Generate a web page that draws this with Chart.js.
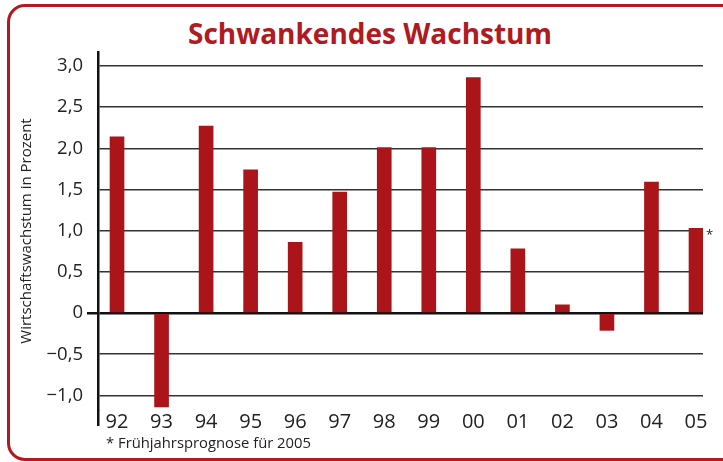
<!DOCTYPE html>
<html lang="de">
<head>
  <meta charset="UTF-8" />
  <title>Schwankendes Wachstum</title>
  <script src="https://cdn.jsdelivr.net/npm/chart.js"></script>
  <style>
    body {
      margin: 0;
      width: 723px;
      height: 462px;
      overflow: hidden;
      background: #fff;
      font-family: "Open Sans", sans-serif;
      position: relative;
    }
    #rahmen {
      position: absolute;
      left: 7px;
      top: 4px;
      width: 740px;
      height: 451px;
      border: 3px solid #B01A20;
      border-radius: 18px;
    }
    #titel {
      position: absolute;
      left: 0;
      top: 16px;
      width: 740px;
      text-align: center;
      font-weight: bold;
      font-size: 28px;
      line-height: 34px;
      color: #B01A20;
    }
    #fussnote {
      position: absolute;
      left: 106px;
      top: 434px;
      font-size: 14.8px;
      line-height: 17px;
      color: #222;
    }
    #wachstumChart {
      position: absolute;
      left: 0;
      top: 0;
    }
  </style>
</head>
<body>

  <div id="rahmen"></div>
  <div id="titel">Schwankendes Wachstum</div>
  <canvas id="wachstumChart" width="723" height="462"></canvas>
  <div id="fussnote">* Frühjahrsprognose für 2005</div>

  <script>
    // Daten
    const jahre = ["92", "93", "94", "95", "96", "97", "98", "99", "00", "01", "02", "03", "04", "05"];
    const wachstum = [2.14, -1.14, 2.27, 1.74, 0.86, 1.47, 2.01, 2.01, 2.86, 0.78, 0.10, -0.21, 1.59, 1.03];
    const yTicks = [-1.0, -0.5, 0, 0.5, 1.0, 1.5, 2.0, 2.5, 3.0];

    const rot = "#AB1419";
    const xMin = -0.427;

    function formatProzent(v) {
      if (v === 0) return "0";
      return (v < 0 ? "\u2212" : "") + Math.abs(v).toFixed(1).replace(".", ",");
    }

    // Sternchen hinter dem Prognosebalken (2005)
    const sternchen = {
      id: "sternchen",
      afterDatasetsDraw(chart) {
        const bar = chart.getDatasetMeta(0).data[jahre.length - 1];
        const ctx = chart.ctx;
        ctx.save();
        ctx.fillStyle = "#222";
        ctx.font = "13px 'Open Sans'";
        ctx.textAlign = "left";
        ctx.textBaseline = "alphabetic";
        ctx.fillText("*", bar.x + bar.width / 2 + 3, bar.y + 11);
        ctx.restore();
      }
    };

    const ctx = document.getElementById("wachstumChart").getContext("2d");

    new Chart(ctx, {
      type: "bar",
      data: {
        datasets: [{
          data: wachstum.map((w, i) => ({ x: i, y: w })),
          backgroundColor: rot,
          barThickness: 14
        }]
      },
      options: {
        responsive: false,
        animation: false,
        layout: {
          padding: { top: 52, right: 20, bottom: 0, left: 0 }
        },
        scales: {
          x: {
            type: "linear",
            offset: false,
            min: xMin,
            max: 13.157,
            // erster Tick nur fuer die Verlaengerung der y-Achse nach unten
            afterBuildTicks: scale => {
              scale.ticks = [{ value: xMin }].concat(jahre.map((j, i) => ({ value: i })));
            },
            afterFit: scale => { scale.height = 52; },
            grid: {
              drawOnChartArea: false,
              offset: false,
              lineWidth: 2.5,
              tickLength: 16,
              tickColor: c => c.tick && c.tick.value === xMin ? "#111" : "rgba(0,0,0,0)"
            },
            border: { display: false },
            ticks: {
              padding: -16,
              color: "#222",
              font: { family: "'Open Sans'", size: 20 },
              callback: v => v === xMin ? "" : jahre[v]
            }
          },
          y: {
            min: -1.177,
            max: 3.17,
            afterBuildTicks: scale => {
              scale.ticks = yTicks.map(v => ({ value: v }));
            },
            afterFit: scale => { scale.width = 98; },
            border: { color: "#111", width: 2.5 },
            grid: {
              color: c => c.tick && c.tick.value === 0 ? "#111" : "#333",
              lineWidth: c => c.tick && c.tick.value === 0 ? 2.5 : 1.5,
              tickColor: c => c.tick && c.tick.value === 0 ? "#111" : "rgba(0,0,0,0)",
              tickLength: 11
            },
            ticks: {
              padding: 4,
              color: "#222",
              font: { family: "'Open Sans'", size: 18.5 },
              callback: v => formatProzent(v)
            },
            title: {
              display: true,
              text: "Wirtschaftswachstum in Prozent",
              color: "#222",
              font: { family: "'Open Sans'", size: 15 },
              padding: { top: 18, bottom: 0 }
            }
          }
        },
        plugins: {
          legend: { display: false },
          tooltip: { enabled: false }
        }
      },
      plugins: [sternchen]
    });
  </script>
</body>
</html>
